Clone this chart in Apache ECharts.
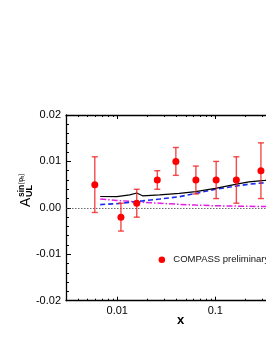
<!DOCTYPE html>
<html><head><meta charset="utf-8">
<script src="https://cdn.jsdelivr.net/npm/echarts@6/dist/echarts.min.js"></script>
<style>html,body{margin:0;padding:0;background:#fff}#c{width:266px;height:344px}</style>
</head><body><div id="c"></div>
<script>
const FONT = '"Liberation Sans", Arial, sans-serif';
// COMPASS preliminary points
const xData = [0.0059, 0.0109, 0.0158, 0.0256, 0.0396, 0.0634, 0.102, 0.164, 0.292];
const yData = [0.0050, -0.0020, 0.0010, 0.0060, 0.0100, 0.0060, 0.0060, 0.0060, 0.0080];
const yErr  = [0.0060, 0.0030, 0.0030, 0.0020, 0.0030, 0.0030, 0.0040, 0.0050, 0.0060];
// model curves
const curveX   = [0.0067, 0.0099, 0.0134, 0.0158, 0.0181, 0.027, 0.043, 0.063, 0.1, 0.165, 0.22, 0.32, 0.35];
const solidY   = [0.00244, 0.0024, 0.0028, 0.0032, 0.0026, 0.0028, 0.0031, 0.0035, 0.0042, 0.0051, 0.0056, 0.0059, 0.0060];
const dashedY  = [0.0007, 0.0009, 0.0012, 0.0014, 0.0015, 0.0019, 0.0024, 0.0031, 0.0040, 0.0047, 0.0051, 0.0054, 0.0055];
const dashDotY = [0.0019, 0.0016, 0.0014, 0.0013, 0.0012, 0.0010, 0.00075, 0.0006, 0.00045, 0.00037, 0.00032, 0.00028, 0.00027];
// ticks
const xMajorTicks = [0.01, 0.1];
const xMinorTicks = [0.003,0.004,0.005,0.006,0.007,0.008,0.009,0.02,0.03,0.04,0.05,0.06,0.07,0.08,0.09,0.2,0.3,0.4,0.5,0.6];
const xMin = 0.003, xMax = 0.65;
const yMin = -0.02, yMax = 0.02, yStep = 0.01;

const pair = (xs, ys) => xs.map((x, i) => [x, ys[i]]);

function xAx(position, ticks, len, showLine, showLabel, name) {
  return {
    type: 'log', logBase: 10, min: xMin, max: xMax, position, gridIndex: 0,
    axisLine: { show: showLine, onZero: false, lineStyle: { color: '#000', width: 1.3 } },
    axisTick: { show: true, inside: true, length: len, customValues: ticks, lineStyle: { color: '#000', width: 1 } },
    axisLabel: showLabel ? { show: true, customValues: ticks, margin: 5, color: '#000', fontSize: 11, fontFamily: FONT,
      formatter: v => (Math.abs(v - 0.01) < 1e-9 ? '0.01' : (Math.abs(v - 0.1) < 1e-9 ? '0.1' : '')) } : { show: false },
    splitLine: { show: false }, minorTick: { show: false },
    name: name || '', nameLocation: 'middle', nameGap: 13, nameMoveOverlap: false,
    nameTextStyle: { color: '#000', fontSize: 13, fontWeight: 'bold', fontFamily: FONT }
  };
}

const chart = echarts.init(document.getElementById('c'), null, { renderer: 'canvas' });
chart.setOption({
  animation: false,
  backgroundColor: '#fff',
  grid: { left: 66, right: -29, top: 115, bottom: 43.3, outerBoundsMode: 'none', containLabel: false },
  legend: {
    left: 153.6, top: 249.7, itemWidth: 13, itemHeight: 6.5, itemGap: 5,
    textStyle: { color: '#111', fontSize: 9.5, fontFamily: FONT },
    data: [{ name: 'COMPASS preliminary', icon: 'circle' }]
  },
  xAxis: [
    xAx('bottom', xMajorTicks, 4, true, true, 'x'),
    xAx('bottom', xMinorTicks, 2, false, false),
    xAx('top', xMajorTicks, 4, true, false),
    xAx('top', xMinorTicks, 2, false, false)
  ],
  yAxis: [{
    type: 'value', min: yMin, max: yMax, interval: yStep,
    axisLine: { show: true, onZero: false, lineStyle: { color: '#000', width: 1.3 } },
    axisTick: { show: true, inside: true, length: 5, lineStyle: { color: '#000', width: 1 } },
    minorTick: { show: true, splitNumber: 5, length: 3, lineStyle: { color: '#000', width: 1 } },
    axisLabel: { color: '#000', fontSize: 11, fontFamily: FONT, margin: 5, formatter: v => v.toFixed(2) },
    splitLine: { show: false }
  }],
  graphic: [{
    type: 'group', x: 30.5, y: 207, rotation: Math.PI / 2,
    children: [
      { type: 'text', x: 0, y: -4.5, style: { text: 'A', font: '14px ' + FONT, fill: '#000', verticalAlign: 'middle', align: 'left' } },
      { type: 'text', x: 10, y: -1, style: { text: 'UL', font: 'bold 9px ' + FONT, fill: '#000', verticalAlign: 'middle', align: 'left' } },
      { type: 'text', x: 10, y: -8.8, style: { text: 'sin', font: 'bold 8.5px ' + FONT, fill: '#000', verticalAlign: 'middle', align: 'left' } },
      { type: 'text', x: 22.6, y: -9.2, style: { text: '(φ', font: '6.5px ' + FONT, fill: '#000', verticalAlign: 'middle', align: 'left' } },
      { type: 'text', x: 28.4, y: -8.2, style: { text: 'h', font: '5px ' + FONT, fill: '#000', verticalAlign: 'middle', align: 'left' } },
      { type: 'text', x: 31.2, y: -9.2, style: { text: ')', font: '6.5px ' + FONT, fill: '#000', verticalAlign: 'middle', align: 'left' } }
    ]
  }],
  series: [
    {
      type: 'line', name: 'dashdot', data: pair(curveX, dashDotY), showSymbol: false, symbol: 'none', z: 2,
      lineStyle: { color: '#e21ee2', width: 1.5, type: [6, 2, 1.5, 2] },
      markLine: {
        silent: true, symbol: 'none', label: { show: false },
        lineStyle: { color: '#444', width: 0.8, type: [1.5, 1.5] },
        data: [{ yAxis: 0 }]
      }
    },
    { type: 'line', name: 'dashed', data: pair(curveX, dashedY), showSymbol: false, symbol: 'none', z: 3,
      lineStyle: { color: '#1a2cf0', width: 1.6, type: [5, 3] } },
    { type: 'line', name: 'solid', data: pair(curveX, solidY), showSymbol: false, symbol: 'none', z: 4,
      lineStyle: { color: '#000', width: 1.2 } },
    {
      type: 'custom', name: 'err', z: 5,
      data: xData.map((x, i) => [x, yData[i], yErr[i]]),
      renderItem: (params, api) => {
        const x = api.value(0), y = api.value(1), e = api.value(2);
        const top = api.coord([x, y + e]), bot = api.coord([x, y - e]);
        const cap = 3;
        const st = { stroke: 'rgba(240,30,30,0.8)', lineWidth: 1.4 };
        return { type: 'group', children: [
          { type: 'line', shape: { x1: top[0], y1: top[1], x2: bot[0], y2: bot[1] }, style: st },
          { type: 'line', shape: { x1: top[0] - cap, y1: top[1], x2: top[0] + cap, y2: top[1] }, style: st },
          { type: 'line', shape: { x1: bot[0] - cap, y1: bot[1], x2: bot[0] + cap, y2: bot[1] }, style: st }
        ]};
      }
    },
    { type: 'scatter', name: 'COMPASS preliminary', data: pair(xData, yData), symbol: 'circle', symbolSize: 7, z: 6,
      itemStyle: { color: '#ff0000', opacity: 1 } }
  ]
});
</script></body></html>
